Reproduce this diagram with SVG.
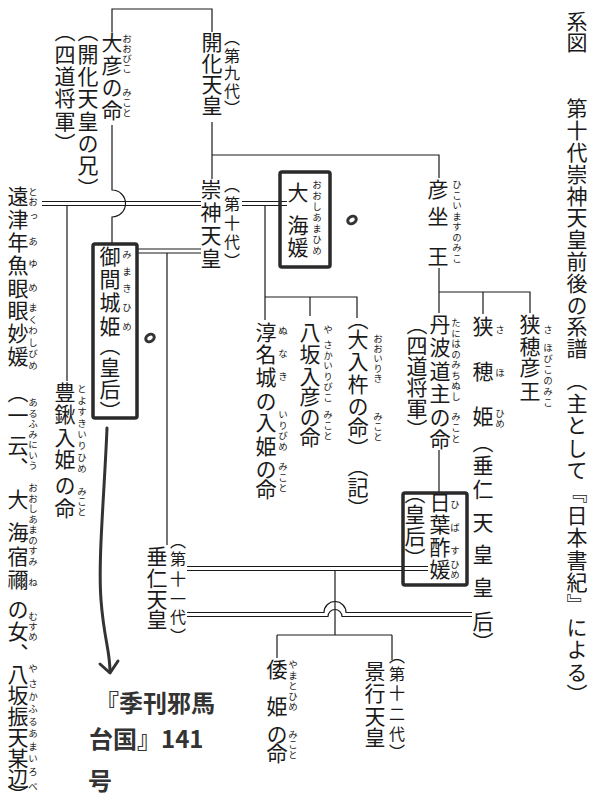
<svg xmlns="http://www.w3.org/2000/svg" width="600" height="806" viewBox="0 0 600 806">
<style>
text{font-family:"Noto Sans CJK JP","Noto Sans CJK SC",sans-serif;fill:#1a1a1a;writing-mode:vertical-rl}
.m{font-size:21px}
.s{font-size:16px}
.r{font-size:9.5px}
.h{writing-mode:horizontal-tb;font-size:24px;font-weight:700;fill:#333}
.ln{fill:none;stroke:#1a1a1a;stroke-width:1.2}
.box{fill:none;stroke:#2a2a2a;stroke-width:3.5;stroke-linejoin:round}
.pen{fill:none;stroke:#333;stroke-width:3;stroke-linecap:round;stroke-linejoin:round}
</style>
<rect width="600" height="806" fill="#fff"/>
<g id="connectors">
<path class="ln" d="M112 32V9H212V32"/>
<path class="ln" d="M212 122V179"/>
<path class="ln" d="M212 155H439V178"/>
<path class="ln" d="M112 125V190A13.5 13.5 0 0 1 112 217V244"/>
<path class="ln" d="M42 201.5H201M42 205.5H201"/>
<path class="ln" d="M242 201.5H287M242 205.5H287"/>
<path class="ln" d="M67 205.5V381"/>
<path class="ln" d="M137 249H201M137 253H201"/>
<path class="ln" d="M167 253V545"/>
<path class="ln" d="M265 205.5V320M265 297H357V318M310 297V316"/>
<path class="ln" d="M439 268V313M439 292H530V313M483 292V314"/>
<path class="ln" d="M439 450V495"/>
<path class="ln" d="M187 566.5H428M187 570.5H428"/>
<path class="ln" d="M335 570.5V635"/>
<path class="ln" d="M187 612.5H324A11 11 0 0 1 346 612.5H472M187 616.5H328A7 7 0 0 1 342 616.5H472"/>
<path class="ln" d="M277 635H392M277 635V658M392 635V660"/>
</g>
<g id="title">
<text class="m" x="577" y="11" letter-spacing="0">系図</text>
<text class="m" x="577" y="98" letter-spacing="0.8">第十代崇神天皇前後の系譜</text>
<text class="m" x="577" y="370" letter-spacing="1.4">（主として『日本書紀』による）</text>
</g>
<g id="kaika">
<text class="m" x="212" y="32">開化天皇</text>
<text class="s" x="232" y="30" letter-spacing="1.5">（第九代）</text>
</g>
<g id="ohiko">
<text class="m" x="112" y="32" letter-spacing="1.5">大彦の命</text>
<text class="r" x="127" y="34" letter-spacing="0.5">おおびこ</text>
<text class="r" x="127" y="88" letter-spacing="0.5">みこと</text>
<text class="m" x="88" y="21" letter-spacing="1.3">（開化天皇の兄）</text>
<text class="m" x="65" y="21" letter-spacing="1.3">（四道将軍）</text>
</g>
<g id="sujin">
<text class="m" x="211" y="179" letter-spacing="2">崇神天皇</text>
<text class="s" x="232" y="177" letter-spacing="3">（第十代）</text>
</g>
<g id="ookaihime">
<rect class="box" x="280" y="172" width="50" height="95" rx="2"/>
<text class="m" x="298" y="182 215 237">大海媛</text>
<text class="r" x="317" y="180" letter-spacing="1.5">おおしあまひめ</text>
</g>
<g id="totsu">
<text class="m" x="18" y="186" letter-spacing="1.8">遠津年魚眼眼妙媛</text>
<text class="m" x="18" y="382 405 435 457">（一云、</text>
<text class="m" x="18" y="489 522 546 569 599 621 643">大海宿禰の女、</text>
<text class="m" x="18" y="664 685 706 727 748 768 785">八坂振天某辺）</text>
<text class="r" x="33" y="187 197 212 237 259 283">とおっあゆめ</text>
<text class="r" x="33" y="303" letter-spacing="2">まくわしびめ</text>
<text class="r" x="33" y="398" letter-spacing="1">あるふみにいう</text>
<text class="r" x="33" y="483 493.5 504 514.5 525 535.5 546 556.5 578">おおしあまのすみね</text>
<text class="r" x="33" y="612" letter-spacing="0.5">むすめ</text>
<text class="r" x="33" y="664 679 691.5 704 716.5 729 741.5 754 766.5 782">やさかふるあまいろべ</text>
</g>
<g id="mimakihime">
<rect class="box" x="93" y="244" width="44" height="174" rx="2"/>
<text class="m" x="110" y="246 269 292 316">御間城姫</text>
<text class="m" x="110" y="335 357 379 401">（皇后）</text>
<text class="r" x="127" y="250 267 284 303 322">みまきひめ</text>
</g>
<g id="toyosuki">
<text class="m" x="65" y="382 404 427 449 475 498">豊鍬入姫の命</text>
<text class="r" x="82" y="384" letter-spacing="1.9">とよすきいりひめ</text>
<text class="r" x="82" y="487" letter-spacing="0.5">みこと</text>
</g>
<g id="nunaki">
<text class="m" x="266" y="322 344 367 391 412 436 459 479">淳名城の入姫の命</text>
<text class="r" x="283" y="326 349 372 410 420.5 431 441.5">ぬなきいりびめ</text>
<text class="r" x="283" y="462" letter-spacing="1">みこと</text>
</g>
<g id="yasakairihiko">
<text class="m" x="310" y="322 344 366 386 407 427">八坂入彦の命</text>
<text class="r" x="328" y="325 340 350.5 361 371.5 382 392.5">やさかいりびこ</text>
<text class="r" x="328" y="410" letter-spacing="1">みこと</text>
</g>
<g id="ooiriki">
<text class="m" x="358" y="309 329 351 374 396 417 438">（大入杵の命）</text>
<text class="r" x="378" y="334" letter-spacing="0.5">おおいりき</text>
<text class="r" x="378" y="412" letter-spacing="0.5">みこと</text>
<text class="m" x="358" y="456 477 498">（記）</text>
</g>
<g id="hikoimasu">
<text class="m" x="438" y="179 206 246">彦坐王</text>
<text class="r" x="457" y="180" letter-spacing="1">ひこいますのみこ</text>
</g>
<g id="tanba">
<text class="m" x="440" y="314 337 361 383 407 429">丹波道主の命</text>
<text class="r" x="456" y="318" letter-spacing="1">たにはのみちぬし</text>
<text class="r" x="456" y="412" letter-spacing="1.5">みこと</text>
<text class="m" x="417" y="314 335 356 377 398 419">（四道将軍）</text>
</g>
<g id="sahohime">
<text class="m" x="483" y="316 361 406 432 455 479 512 544 577 611 632">狭穂姫（垂仁天皇皇后）</text>
<text class="r" x="500" y="325 368 409 419">さほひめ</text>
</g>
<g id="sahohiko">
<text class="m" x="530" y="314 336 357 381">狭穂彦王</text>
<text class="r" x="548" y="325 343 354 365 376 387 398">さほびこのみこ</text>
</g>
<g id="hibasuhime">
<rect class="box" x="403" y="493" width="64" height="92" rx="2"/>
<text class="m" x="440" y="492 514 537 559">日葉酢媛</text>
<text class="r" x="455" y="500 523 546 560 570">ひばすひめ</text>
<text class="m" x="415" y="483 504 526 548">（皇后）</text>
</g>
<g id="suinin">
<text class="m" x="157" y="546 568 589 609">垂仁天皇</text>
<text class="s" x="178" y="533 551 571 591 609 628">（第十一代）</text>
</g>
<g id="yamatohime">
<text class="m" x="277" y="659 696 724 743">倭姫の命</text>
<text class="r" x="293" y="660" letter-spacing="1">やまとひめ</text>
<text class="r" x="293" y="730" letter-spacing="0.5">みこと</text>
</g>
<g id="keiko">
<text class="m" x="375" y="661 683 706 727">景行天皇</text>
<text class="s" x="397" y="648 666 685 706 726 744">（第十二代）</text>
</g>
<g id="annotations">
<ellipse class="pen" cx="352" cy="220" rx="4.5" ry="3.5" transform="rotate(-30 352 220)"/>
<ellipse class="pen" cx="150" cy="338" rx="4.5" ry="3.5" transform="rotate(-30 150 338)"/>
<path class="pen" d="M107 428C104 500 98 560 101 600S110 650 110 672"/>
<path class="pen" d="M100 664L110 673L118 661"/>
<text class="h" x="95" y="712">『季刊邪馬</text>
<text class="h" x="89" y="748">台国』141</text>
<text class="h" x="88" y="790">号</text>
</g>
</svg>
